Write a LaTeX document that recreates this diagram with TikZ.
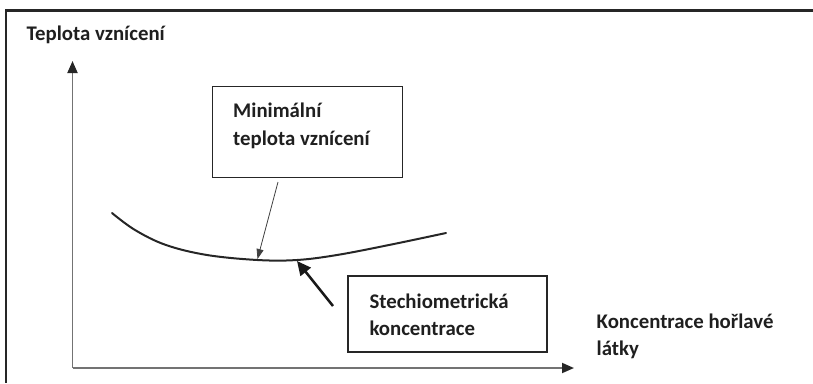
\documentclass[tikz,border=0pt]{standalone}
\usepackage{fontspec}
\setmainfont{Carlito}
\usetikzlibrary{arrows.meta}
\tikzset{
  lbl/.style={font=\bfseries\fontsize{20.8}{28}\selectfont, text=black!88, inner sep=0pt, anchor=base west},
  callout/.style={draw=black!85, line width=1.6pt},
  axis/.style={draw=black!55, line width=1.8pt, -{Triangle[length=12pt,width=10pt,color=black!85]}},
}
\begin{document}
\begin{tikzpicture}[x=1pt,y=-1pt]
\useasboundingbox (0,0) rectangle (813,383);
% frame (top and left only)
\draw[black!85, line width=2.5pt] (6,10.5) -- (813,10.5);
\draw[black!85, line width=2.5pt] (6,9.3) -- (6,383);
% axes
\coordinate (O) at (72.5,368);
\coordinate (ytop) at (72.5,61);
\coordinate (xend) at (574,368);
\draw[axis] (O) -- (ytop);
\draw[axis] (O) -- (xend);
% labels
\node[lbl] (ylab) at (26.5,40.7) {Teplota vznícení};
\node[lbl] (xlab1) at (596.5,328.3) {Koncentrace hořlavé};
\node[lbl] (xlab2) at (596.5,355.5) {látky};
% box 1
\draw[callout] (212.5,86.5) rectangle (402.5,177.5);
\node[lbl] (minT1) at (233,117.3) {Minimální};
\node[lbl] (minT2) at (233,145) {teplota vznícení};
\coordinate (box1) at (278,182);
% box 2
\draw[callout] (348,276) rectangle (547,352);
\node[lbl] (stech1) at (369.3,308.3) {Stechiometrická};
\node[lbl] (stech2) at (369.3,335.5) {koncentrace};
% curve
\draw[black!85, line width=2pt, line cap=round] plot[smooth, tension=0.6] coordinates
  {(112,213) (135,230) (166,245) (207,255) (257.5,260) (297,260) (337,255) (389,245) (446,233)};
\coordinate (minpt) at (257.5,259);
\coordinate (stpt) at (297,261);
\coordinate (box2) at (333,306);
% arrows
\draw[black!75, line width=0.8pt, -{Triangle[length=10pt,width=7pt]}] (box1) -- (minpt);
\draw[black!90, line width=2.5pt, -{Triangle[length=14pt,width=13pt]}] (box2) -- (stpt);
\end{tikzpicture}
\end{document}
